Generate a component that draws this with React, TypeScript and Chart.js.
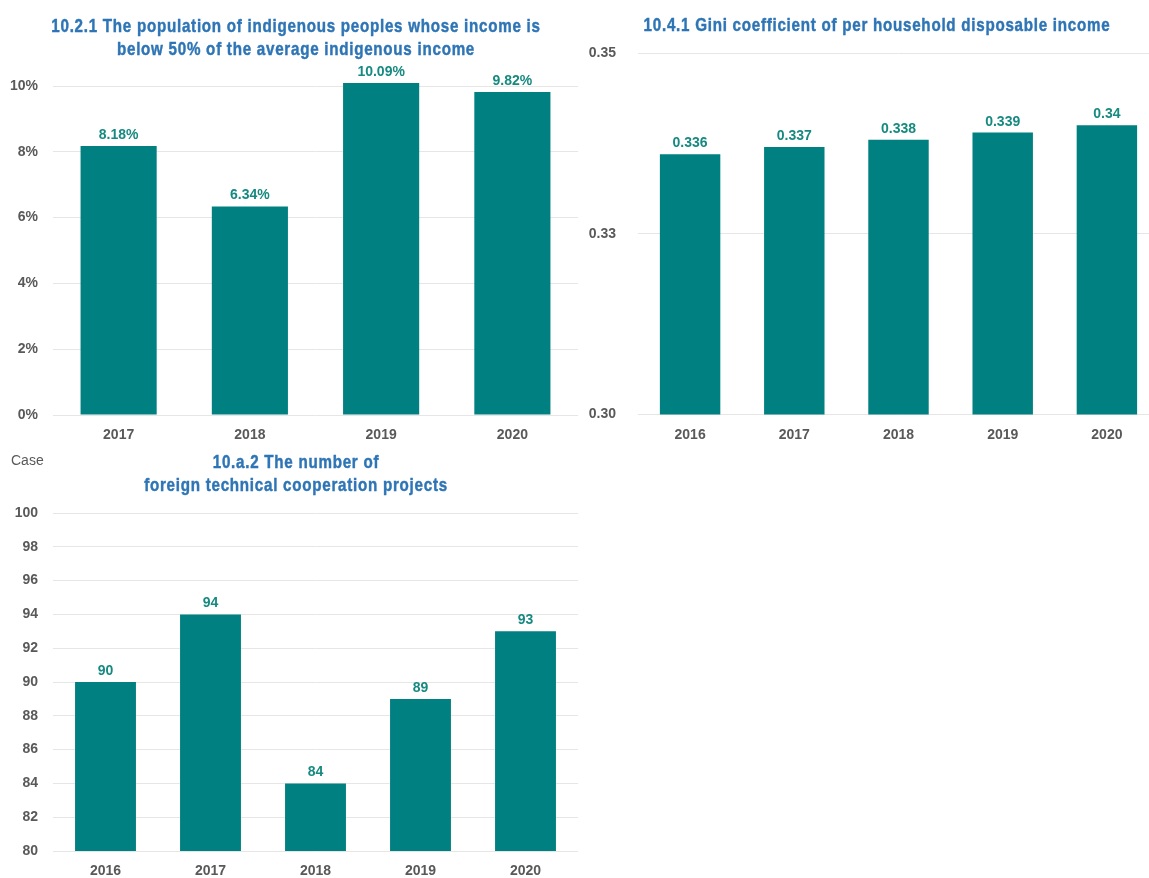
import React, { useEffect, useRef } from "react";
import { Chart, registerables } from "chart.js";

Chart.register(...registerables);

// ---------- data ----------
const povertyYears = ["2017", "2018", "2019", "2020"];
const povertyRates = [8.18, 6.34, 10.09, 9.82];
const povertyTitle = [
  "10.2.1 The population of indigenous peoples whose income is",
  "below 50% of the average indigenous income",
];

const giniYears = ["2016", "2017", "2018", "2019", "2020"];
const giniValues = [0.336, 0.337, 0.338, 0.339, 0.34];
const giniTickLabels = ["0.30", "0.33", "0.35"];
const giniTitle = ["10.4.1 Gini coefficient of per household disposable income"];

const projectYears = ["2016", "2017", "2018", "2019", "2020"];
const projectCounts = [90, 94, 84, 89, 93];
const projectTitle = ["10.a.2 The number of", "foreign technical cooperation projects"];
const projectUnit = "Case";

// ---------- styles ----------
const BAR = "#008080";
const LABEL = "#168a80";
const TITLE = "#2e75b6";
const TICK = "#595959";
const GRID = "#e6e6e6";
const SANS = '"Liberation Sans", Arial, sans-serif';

type Props = {
  labels: string[];
  values: number[];
  title: string[];
  titleX: number;
  titleY: number[];
  min: number;
  max: number;
  step: number;
  tick: (v: number, i: number) => string;
  fmt: (v: number) => string;
  width: number;
  height: number;
  left: number;
  top: number;
  padTop: number;
  padRight: number;
  axisWidth: number;
  xAxisHeight: number;
  yTickPad: number;
  clipTop: boolean;
  unit?: string;
};

function BarChart(p: Props) {
  const ref = useRef<HTMLCanvasElement | null>(null);
  useEffect(() => {
    if (!ref.current) return;
    const valueLabels = {
      id: "valueLabels",
      afterDatasetsDraw(chart: any) {
        const ctx = chart.ctx;
        const meta = chart.getDatasetMeta(0);
        ctx.save();
        ctx.font = `bold 14px ${SANS}`;
        ctx.fillStyle = LABEL;
        ctx.textAlign = "center";
        ctx.textBaseline = "alphabetic";
        meta.data.forEach((bar: any, i: number) => {
          ctx.fillText(p.fmt(p.values[i]), bar.x, bar.y - 7);
        });
        ctx.restore();
      },
    };
    const titles = {
      id: "narrowTitle",
      afterDraw(chart: any) {
        const ctx = chart.ctx;
        ctx.save();
        ctx.font = `bold 18.5px ${SANS}`;
        ctx.fillStyle = TITLE;
        ctx.strokeStyle = TITLE;
        ctx.lineWidth = 0.45;
        ctx.textAlign = "center";
        ctx.textBaseline = "middle";
        try {
          (ctx as any).letterSpacing = "0.9px";
        } catch (e) {}
        const sx = 0.82;
        ctx.scale(sx, 1);
        p.title.forEach((line, i) => {
          ctx.fillText(line, p.titleX / sx, p.titleY[i]);
          ctx.strokeText(line, p.titleX / sx, p.titleY[i]);
        });
        ctx.restore();
        if (p.unit) {
          ctx.save();
          ctx.font = `14px ${SANS}`;
          ctx.fillStyle = TICK;
          ctx.textAlign = "left";
          ctx.textBaseline = "middle";
          ctx.fillText(p.unit, 11, 16);
          ctx.restore();
        }
      },
    };
    const chart = new Chart(ref.current, {
      type: "bar",
      data: {
        labels: p.labels,
        datasets: [
          {
            data: p.values,
            backgroundColor: BAR,
            borderWidth: 0,
            categoryPercentage: 1,
            barPercentage: 0.58,
            clip: (p.clipTop ? 0 : { left: 0, right: 0, bottom: 0, top: false }) as any,
          },
        ],
      },
      options: {
        responsive: false,
        animation: false,
        layout: { padding: { left: 0, right: p.padRight, top: p.padTop, bottom: 0 } },
        plugins: {
          legend: { display: false },
          tooltip: { enabled: false },
          title: { display: false },
        },
        scales: {
          x: {
            grid: { display: false, drawTicks: false },
            border: { display: false },
            ticks: { color: TICK, font: { family: SANS, size: 14, weight: "bold" }, padding: 12 },
            afterFit: (s: any) => {
              s.height = p.xAxisHeight;
            },
          },
          y: {
            min: p.min,
            max: p.max,
            grid: { color: GRID, drawTicks: false },
            border: { display: false },
            ticks: {
              stepSize: p.step,
              color: TICK,
              padding: p.yTickPad,
              font: { family: SANS, size: 14, weight: "bold" },
              callback: (v: any, i: number) => p.tick(Number(v), i),
            },
            afterFit: (s: any) => {
              s.width = p.axisWidth;
            },
          },
        },
      },
      plugins: [valueLabels, titles],
    });
    return () => chart.destroy();
  }, []);
  return (
    <canvas
      ref={ref}
      width={p.width}
      height={p.height}
      style={{ position: "absolute", left: p.left, top: p.top, width: p.width, height: p.height }}
    />
  );
}

export default function App() {
  return (
    <div
      style={{
        position: "absolute",
        left: 0,
        top: 0,
        width: 1149,
        height: 878,
        overflow: "hidden",
        background: "#fff",
      }}
    >
      <BarChart
        labels={povertyYears}
        values={povertyRates}
        title={povertyTitle}
        titleX={296}
        titleY={[27, 50]}
        min={0}
        max={10}
        step={2}
        tick={(v) => `${v}%`}
        fmt={(v) => `${v.toFixed(2)}%`}
        width={580}
        height={445}
        left={0}
        top={0}
        padTop={86}
        padRight={2}
        axisWidth={53}
        xAxisHeight={30}
        yTickPad={15}
        clipTop={false}
      />
      <BarChart
        labels={giniYears}
        values={giniValues}
        title={giniTitle}
        titleX={297}
        titleY={[26]}
        min={0.3}
        max={0.35}
        step={0.025}
        tick={(_v, i) => giniTickLabels[i]}
        fmt={(v) => String(v)}
        width={594}
        height={445}
        left={580}
        top={0}
        padTop={53}
        padRight={15}
        axisWidth={58}
        xAxisHeight={30}
        yTickPad={22}
        clipTop={true}
      />
      <BarChart
        labels={projectYears}
        values={projectCounts}
        title={projectTitle}
        titleX={296}
        titleY={[18, 41]}
        min={80}
        max={100}
        step={2}
        tick={(v) => String(v)}
        fmt={(v) => String(v)}
        width={580}
        height={433}
        left={0}
        top={445}
        padTop={68}
        padRight={2}
        axisWidth={53}
        xAxisHeight={27}
        yTickPad={15}
        clipTop={true}
        unit={projectUnit}
      />
    </div>
  );
}
